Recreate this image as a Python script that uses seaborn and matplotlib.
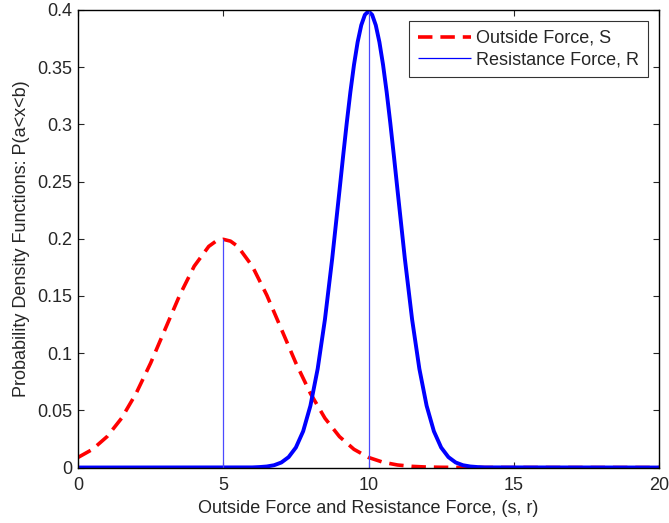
import numpy as np
import pandas as pd
import matplotlib
matplotlib.use("Agg")
import matplotlib.pyplot as plt
import seaborn as sns

# Outside force S, density (peak 0.2 at s = 5)
s_x = [0, 0.5, 1, 1.5, 2, 2.5, 3, 3.5, 4, 4.5, 4.75, 5, 5.25, 5.5, 6, 6.5, 7,
       7.5, 8, 8.5, 9, 9.5, 10, 10.5, 11, 11.5, 12, 12.5, 13, 14, 20]
s_y = [0.0088, 0.0159, 0.0270, 0.0431, 0.0648, 0.0913, 0.1210, 0.1506, 0.1760,
       0.1933, 0.1979, 0.1995, 0.1979, 0.1933, 0.1760, 0.1506, 0.1210, 0.0913,
       0.0648, 0.0431, 0.0270, 0.0159, 0.0088, 0.0046, 0.0022, 0.0010, 0.0004,
       0.0002, 0.0001, 0.0, 0.0]

# Resistance force R, density (peak 0.4 at r = 10)
r_x = [0, 6, 6.25, 6.5, 6.75, 7, 7.25, 7.5, 7.75, 8, 8.25, 8.5, 8.75, 9,
       9.125, 9.25, 9.375, 9.5, 9.625, 9.75, 9.875, 10, 10.125, 10.25, 10.375,
       10.5, 10.625, 10.75, 10.875, 11, 11.25, 11.5, 11.75, 12, 12.25, 12.5,
       12.75, 13, 13.25, 13.5, 13.75, 14, 20]
r_y = [0.0, 0.0001, 0.0004, 0.0009, 0.0020, 0.0044, 0.0091, 0.0175, 0.0317,
       0.0540, 0.0863, 0.1295, 0.1827, 0.2420, 0.2721, 0.3011, 0.3282, 0.3521,
       0.3719, 0.3867, 0.3958, 0.3989, 0.3958, 0.3867, 0.3719, 0.3521, 0.3282,
       0.3011, 0.2721, 0.2420, 0.1827, 0.1295, 0.0863, 0.0540, 0.0317, 0.0175,
       0.0091, 0.0044, 0.0020, 0.0009, 0.0004, 0.0001, 0.0]

# mean markers
mean_x = [5, 10]
mean_peak = [0.1995, 0.3989]

labels = ["Outside Force, S", "Resistance Force, R"]

df_s = pd.DataFrame({"x": s_x, "y": s_y})
df_r = pd.DataFrame({"x": r_x, "y": r_y})

sns.set_style("ticks")
plt.rcParams["font.family"] = ["Liberation Sans", "DejaVu Sans"]
plt.rcParams["xtick.direction"] = "in"
plt.rcParams["ytick.direction"] = "in"

fig = plt.figure(figsize=(6.69, 5.23), dpi=100)
ax = fig.add_axes([0.1166, 0.1061, 0.8685, 0.8748])

sns.lineplot(data=df_s, x="x", y="y", ax=ax, color="red", linewidth=2.6,
             linestyle=(0, (4, 2.2)), label=labels[0], legend=False)
sns.lineplot(data=df_r, x="x", y="y", ax=ax, color="#0000ff", linewidth=2.8,
             legend=False)
ax.vlines(mean_x, 0, mean_peak, color="#4a4aff", linewidth=0.9,
          label=labels[1])

ax.set_xlim(0, 20)
ax.set_ylim(0, 0.4)
ax.set_xticks([0, 5, 10, 15, 20])
ax.set_yticks(np.arange(0, 0.41, 0.05))
ax.set_yticklabels(["0", "0.05", "0.1", "0.15", "0.2", "0.25", "0.3", "0.35", "0.4"])
ax.tick_params(axis="both", labelsize=13, length=4, width=0.8,
               top=True, right=True, pad=4)
ax.tick_params(axis="x", pad=7)
for sp in ax.spines.values():
    sp.set_visible(True)
    sp.set_linewidth(1.0)
    sp.set_color("black")

ax.set_xlabel("Outside Force and Resistance Force, (s, r)", fontsize=13, labelpad=4)
ax.set_ylabel("Probability Density Functions: P(a<x<b)", fontsize=13, labelpad=5)

leg = ax.legend(loc="upper right", fontsize=13, frameon=True, fancybox=False,
                edgecolor="black", handlelength=2.9, handletextpad=0.3,
                borderpad=0.5, labelspacing=0.25, borderaxespad=0.6)
leg.get_frame().set_linewidth(0.8)
leg.legend_handles[1].set_color("#0000ff")

fig.savefig("out.png", dpi=100)
